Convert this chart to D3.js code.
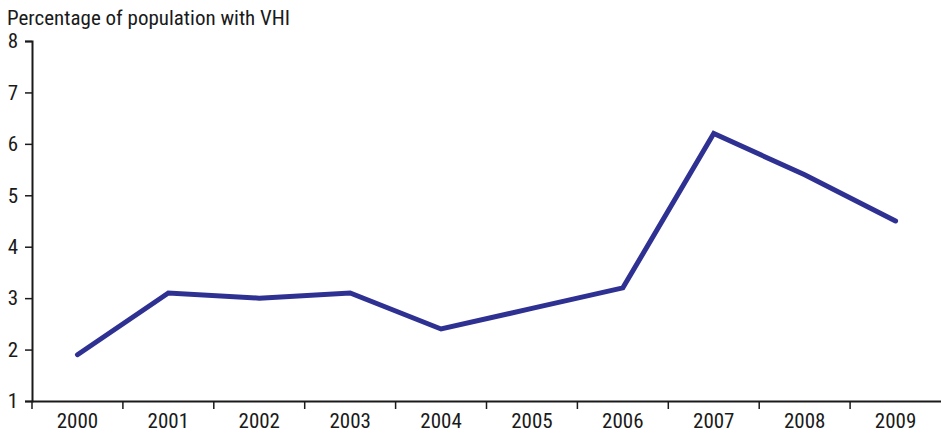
<!DOCTYPE html>
<html><head><meta charset="utf-8">
<script src="https://cdn.jsdelivr.net/npm/d3@7"></script>
<style>
body{margin:0;background:#fff;}
text{font-family:"Liberation Sans Narrow","Arial Narrow","Roboto Condensed","Liberation Sans",sans-serif;fill:#1a1a1a;}
</style></head>
<body>
<svg id="c" width="941" height="434"></svg>
<script>
const years = ["2000","2001","2002","2003","2004","2005","2006","2007","2008","2009"];
const vhi = [1.9, 3.1, 3.0, 3.1, 2.4, 2.8, 3.2, 6.2, 5.4, 4.5];
const yTicks = [1,2,3,4,5,6,7,8];
const yTitle = "Percentage of population with VHI";

(function(){
const svg = d3.select("#c");
const mLeft = 32, mRight = 941, mTop = 41, mBottom = 401;
const x = d3.scaleBand().domain(years).range([mLeft, mRight]);
const y = d3.scaleLinear().domain([1, 8]).range([mBottom, mTop]);

const font = 21;
const ya = svg.append("g").attr("transform", `translate(${mLeft},0)`)
  .call(d3.axisLeft(y).tickValues(yTicks).tickSize(7).tickPadding(7).tickFormat(d3.format("d")));
ya.selectAll("text").style("font-size", font + "px");
const xa = svg.append("g").attr("transform", `translate(0,${mBottom})`)
  .call(d3.axisBottom(x).tickSize(0).tickPadding(12));
xa.selectAll("text").style("font-size", font + "px");
xa.selectAll(".bt").data(years).enter().append("line").attr("class","bt")
  .attr("x1", d => x(d)).attr("x2", d => x(d)).attr("y1", 0).attr("y2", 8)
  .attr("stroke", "#1a1a1a").attr("stroke-width", 1.5);
svg.selectAll(".domain").attr("stroke", "#1a1a1a").attr("stroke-width", 2);
svg.selectAll(".tick line").attr("stroke", "#1a1a1a").attr("stroke-width", 1.5);

svg.append("text").attr("x", 7).attr("y", 25).style("font-size", font + "px").text(yTitle);

const line = d3.line().x((d, i) => x(years[i]) + x.bandwidth() / 2).y(d => y(d));
svg.append("path").datum(vhi).attr("d", line).attr("fill", "none")
  .attr("stroke", "#2e3192").attr("stroke-width", 5).attr("stroke-linecap", "round").attr("stroke-linejoin", "miter");
})();
</script>
</body></html>
